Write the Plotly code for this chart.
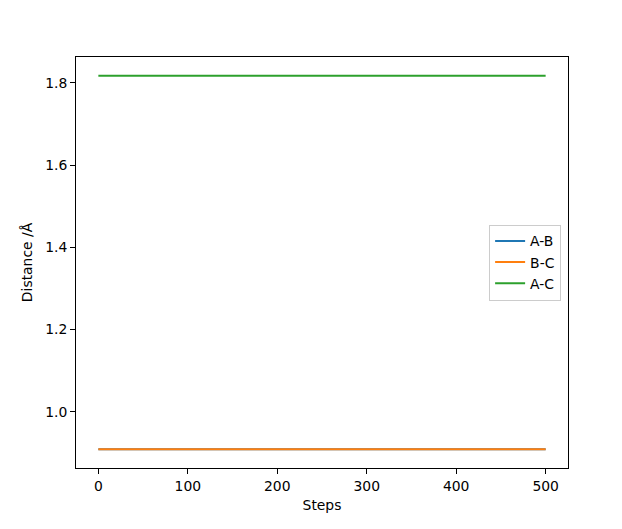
import plotly.graph_objects as go

steps = [0, 500]
ab = [0.9087, 0.9087]
bc = [0.9087, 0.9087]
ac = [1.8174, 1.8174]
series_names = ["A-B", "B-C", "A-C"]
colors = ["#1f77b4", "#ff7f0e", "#2ca02c"]

fig = go.Figure()
for name, vals, c in zip(series_names, [ab, bc, ac], colors):
    fig.add_trace(go.Scatter(x=steps, y=vals, mode="lines", name=name,
                             line=dict(color=c, width=2)))

axis_common = dict(showline=True, linecolor="black", linewidth=1, mirror=True,
                   ticks="outside", ticklen=5, tickwidth=1, tickcolor="black",
                   showgrid=False, zeroline=False,
                   tickfont=dict(family="DejaVu Sans", size=13.9, color="black"))

fig.update_layout(
    width=614, height=521,
    margin=dict(l=67.5, r=54.3, t=49, b=60.7),
    paper_bgcolor="white", plot_bgcolor="white",
    font=dict(family="DejaVu Sans", size=13.9, color="black"),
    xaxis=dict(range=[-25, 525], tickvals=[0, 100, 200, 300, 400, 500],
               title=dict(text="Steps", standoff=7, font=dict(size=13.9)), **axis_common),
    yaxis=dict(range=[0.8633, 1.8628], tickvals=[1.0, 1.2, 1.4, 1.6, 1.8],
               tickformat=".1f",
               title=dict(text="Distance /Å", standoff=9, font=dict(size=13.9)), **axis_common),
    legend=dict(x=0.986, y=0.5, xanchor="right", yanchor="middle",
                bordercolor="#cccccc", borderwidth=1, bgcolor="white",
                font=dict(size=13.9), tracegroupgap=0),
    showlegend=True,
)

fig.write_html("out.html")
